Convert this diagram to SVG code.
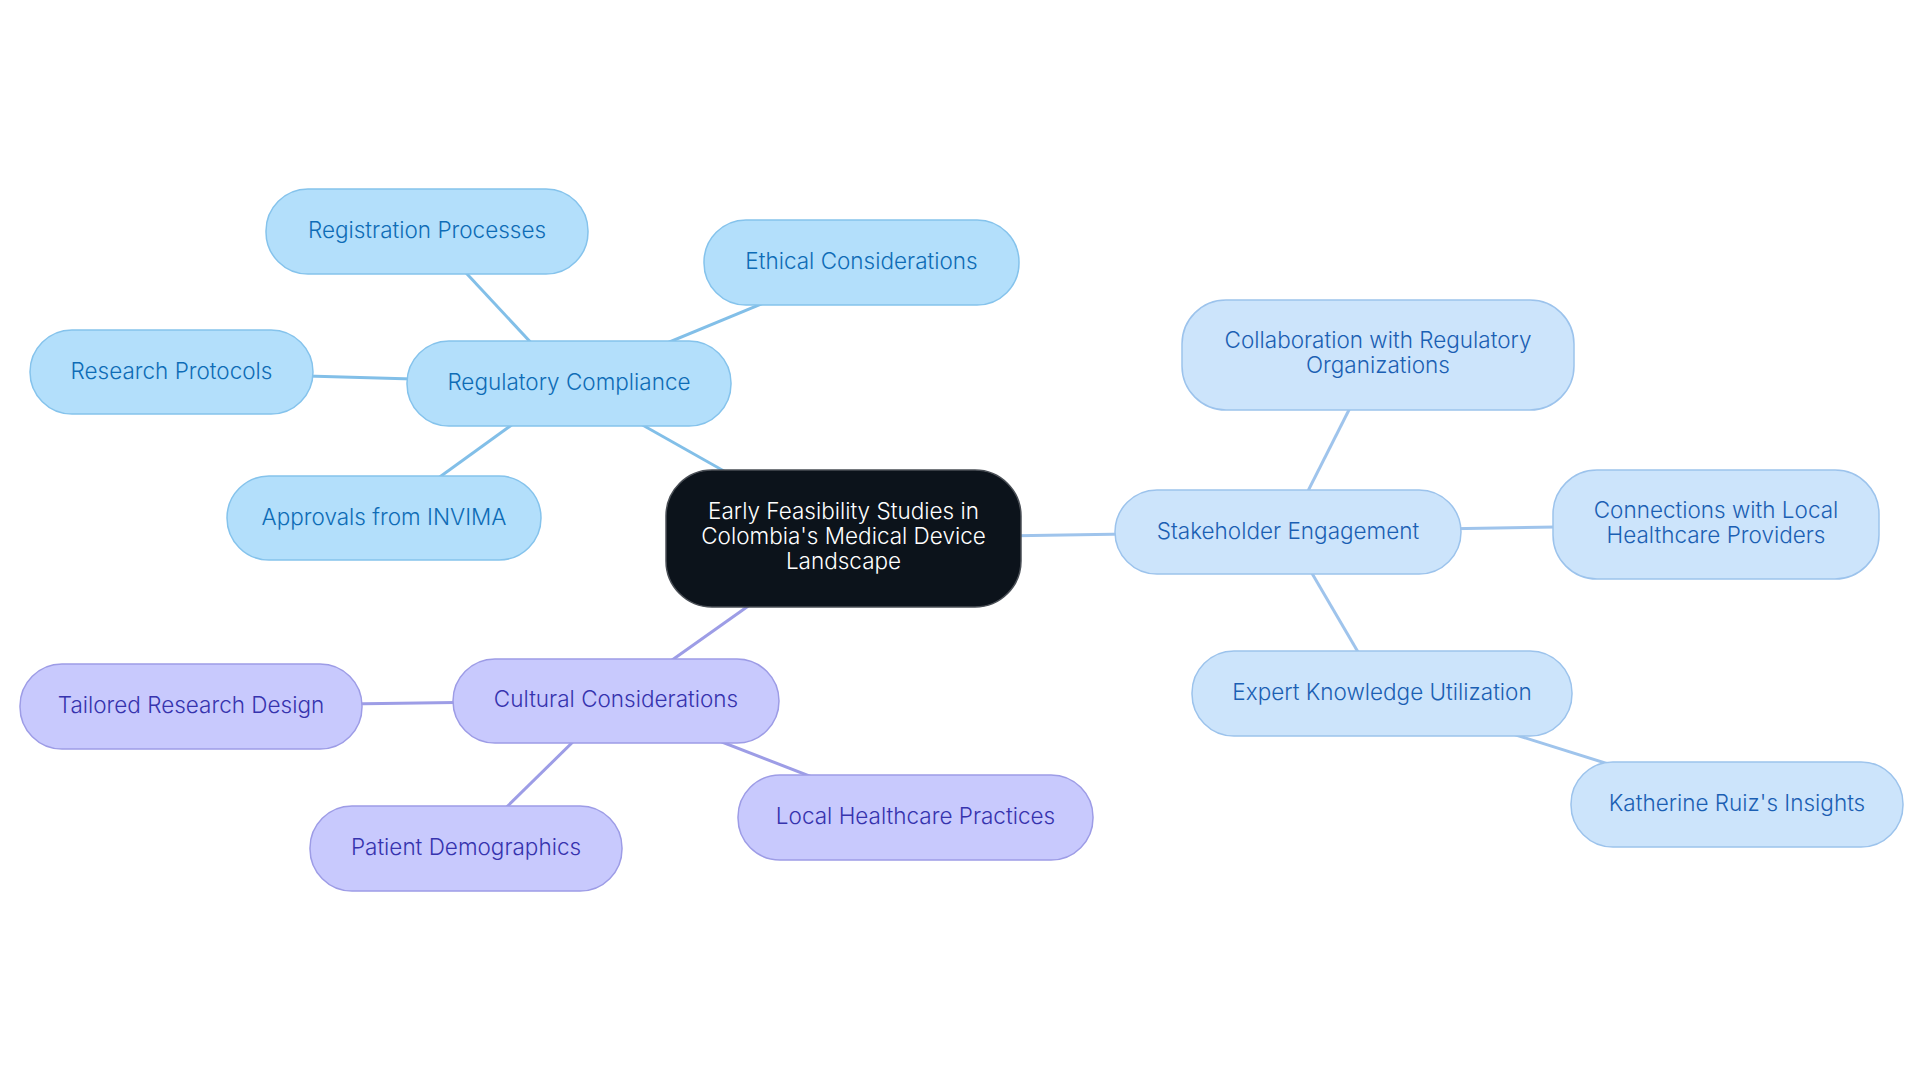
<svg xmlns="http://www.w3.org/2000/svg" width="1920" height="1083" viewBox="0 0 1920 1083">
<style>
text{font-family:Inter,"Noto Sans","Liberation Sans",sans-serif;font-size:22.5px;font-weight:300;text-anchor:middle}
.reg rect{fill:#b3dffb;stroke:#85c3ec;stroke-width:1.5}
.reg text{fill:#0e6cb6}
.stk rect{fill:#cce4fb;stroke:#9cc3ec;stroke-width:1.5}
.stk text{fill:#1b5fb3}
.cul rect{fill:#c8c9fd;stroke:#9d9ce6;stroke-width:1.5}
.cul text{fill:#3633ae}
#center rect{fill:#0c131b;stroke:#4a4f56;stroke-width:1.5}
#center text{fill:#ffffff}
.lr{stroke:#82bfe8;stroke-width:3;fill:none}
.ls{stroke:#9fc4ec;stroke-width:3;fill:none}
.lc{stroke:#9d9de6;stroke-width:3;fill:none}
</style>
<rect width="1920" height="1083" fill="#ffffff"/>
<g id="connectors">
<line class="lr" x1="843.5" y1="538.5" x2="569" y2="383.5"/>
<line class="lr" x1="569" y1="383.5" x2="427.5" y2="231.5"/>
<line class="lr" x1="569" y1="383.5" x2="862" y2="262.5"/>
<line class="lr" x1="569" y1="383.5" x2="171" y2="372"/>
<line class="lr" x1="569" y1="383.5" x2="383" y2="518"/>
<line class="ls" x1="843.5" y1="538.5" x2="1287.5" y2="531.5"/>
<line class="ls" x1="1287.5" y1="531.5" x2="1377" y2="354.5"/>
<line class="ls" x1="1287.5" y1="531.5" x2="1714" y2="524.5"/>
<line class="ls" x1="1287.5" y1="531.5" x2="1382" y2="693"/>
<line class="ls" x1="1382" y1="693" x2="1736" y2="804"/>
<line class="lc" x1="843.5" y1="538.5" x2="615" y2="700.5"/>
<line class="lc" x1="615" y1="700.5" x2="190" y2="706"/>
<line class="lc" x1="615" y1="700.5" x2="465" y2="848"/>
<line class="lc" x1="615" y1="700.5" x2="915" y2="817"/>
</g>
<g id="center"><rect x="666" y="470" width="355" height="137" rx="46"/>
<text x="843.5" y="519">Early Feasibility Studies in</text>
<text x="843.5" y="544">Colombia's Medical Device</text>
<text x="843.5" y="569">Landscape</text></g>
<g id="regulatory" class="reg"><rect x="407" y="341" width="324" height="85" rx="42"/><text x="569" y="389.5">Regulatory Compliance</text></g>
<g id="registration" class="reg"><rect x="266" y="189" width="322" height="85" rx="42"/><text x="427" y="237.5">Registration Processes</text></g>
<g id="ethical" class="reg"><rect x="704" y="220" width="315" height="85" rx="42"/><text x="861.5" y="268.5">Ethical Considerations</text></g>
<g id="research" class="reg"><rect x="30" y="330" width="283" height="84" rx="42"/><text x="171.5" y="378.5">Research Protocols</text></g>
<g id="approvals" class="reg"><rect x="227" y="476" width="314" height="84" rx="42"/><text x="384" y="524.5">Approvals from INVIMA</text></g>
<g id="stakeholder" class="stk"><rect x="1115" y="490" width="346" height="84" rx="42"/><text x="1288" y="538.5">Stakeholder Engagement</text></g>
<g id="collaboration" class="stk"><rect x="1182" y="300" width="392" height="110" rx="44"/><text x="1378" y="348">Collaboration with Regulatory</text><text x="1378" y="373">Organizations</text></g>
<g id="connections" class="stk"><rect x="1553" y="470" width="326" height="109" rx="44"/><text x="1716" y="518">Connections with Local</text><text x="1716" y="543">Healthcare Providers</text></g>
<g id="expert" class="stk"><rect x="1192" y="651" width="380" height="85" rx="42"/><text x="1382" y="699.5">Expert Knowledge Utilization</text></g>
<g id="katherine" class="stk"><rect x="1571" y="762" width="332" height="85" rx="42"/><text x="1737" y="810.5">Katherine Ruiz's Insights</text></g>
<g id="cultural" class="cul"><rect x="453" y="659" width="326" height="84" rx="42"/><text x="616" y="706.5">Cultural Considerations</text></g>
<g id="tailored" class="cul"><rect x="20" y="664" width="342" height="85" rx="42"/><text x="191" y="712.5">Tailored Research Design</text></g>
<g id="patient" class="cul"><rect x="310" y="806" width="312" height="85" rx="42"/><text x="466" y="854.5">Patient Demographics</text></g>
<g id="local" class="cul"><rect x="738" y="775" width="355" height="85" rx="42"/><text x="915.5" y="823.5">Local Healthcare Practices</text></g>
</svg>
